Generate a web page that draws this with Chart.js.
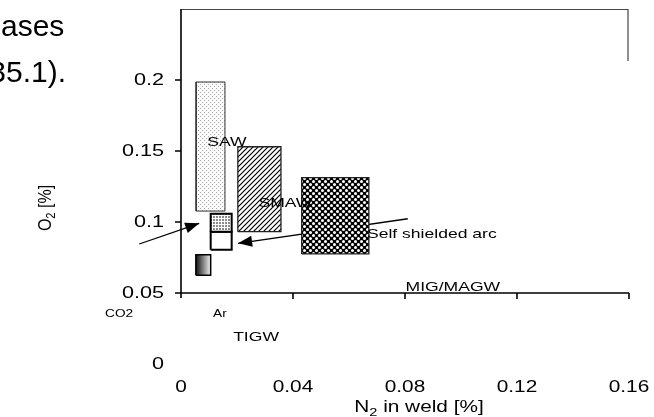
<!DOCTYPE html>
<html>
<head>
<meta charset="utf-8">
<style>
  html, body { margin: 0; padding: 0; background: #fff; }
  #wrap { width: 654px; height: 417px; }
</style>
<script src="https://cdn.jsdelivr.net/npm/chart.js@4.4.1/dist/chart.umd.min.js"></script>
</head>
<body>
<div id="wrap"><canvas id="weldChart" width="654" height="417"></canvas></div>
<script>
// process windows (N2 / O2 ranges in weld metal, %)
const boxNames = ['SAW', 'SMAW', 'Self shielded arc', 'Ar', 'Ar (low)', 'CO2'];
const boxXMin = [0.0054, 0.0203, 0.0431, 0.0106, 0.0106, 0.0053];
const boxXMax = [0.0157, 0.0357, 0.0671, 0.0181, 0.0181, 0.0106];
const boxYMin = [0.1077, 0.0932, 0.0775, 0.0932, 0.0805, 0.0625];
const boxYMax = [0.1986, 0.1530, 0.1312, 0.1058, 0.0932, 0.0770];

// arrows (tail -> head)
const arrowFromX = [-0.0149, 0.0810];
const arrowFromY = [0.0845, 0.1023];
const arrowToX = [0.0065, 0.0204];
const arrowToY = [0.0991, 0.0850];

// axis ticks
const xTicks = [0, 0.04, 0.08, 0.12, 0.16];
const xTickLabels = ['0', '0.04', '0.08', '0.12', '0.16'];
const yTicks = [0, 0.05, 0.1, 0.15, 0.2];
const yTickLabels = ['0', '0.05', '0.1', '0.15', '0.2'];

const FONT = '"Liberation Sans", Arial, sans-serif';
const STRETCH = 1.3;

const canvas = document.getElementById('weldChart');
const ctx = canvas.getContext('2d');

function makePattern(size, draw) {
    const c = document.createElement('canvas');
    c.width = size;
    c.height = size;
    draw(c.getContext('2d'));
    return ctx.createPattern(c, 'repeat');
}

const sawFill = makePattern(4, g => {
    g.fillStyle = '#fafafa';
    g.fillRect(0, 0, 4, 4);
    g.fillStyle = '#a8a8a8';
    g.fillRect(0, 0, 1, 1);
    g.fillRect(2, 2, 1, 1);
});
const smawFill = makePattern(5, g => {
    g.fillStyle = '#fff';
    g.fillRect(0, 0, 5, 5);
    g.strokeStyle = '#000';
    g.lineWidth = 1.2;
    g.beginPath();
    g.moveTo(-1, 6); g.lineTo(6, -1);
    g.moveTo(-1, 1); g.lineTo(1, -1);
    g.moveTo(4, 6); g.lineTo(6, 4);
    g.stroke();
});
const crossFill = makePattern(6, g => {
    g.fillStyle = '#000';
    g.fillRect(0, 0, 6, 6);
    g.fillStyle = '#fff';
    g.beginPath();
    g.arc(1.5, 1.5, 1.5, 0, Math.PI * 2);
    g.arc(4.5, 4.5, 1.5, 0, Math.PI * 2);
    g.fill();
});
const arFill = makePattern(3, g => {
    g.fillStyle = '#fff';
    g.fillRect(0, 0, 3, 3);
    g.fillStyle = '#8a8a8a';
    g.fillRect(0, 0, 2, 2);
});

function co2Gradient(context) {
    const chart = context.chart;
    if (!chart.chartArea) return '#888';
    const xs = chart.scales.x;
    const g = chart.ctx.createLinearGradient(xs.getPixelForValue(boxXMin[5]), 0, xs.getPixelForValue(boxXMax[5]), 0);
    g.addColorStop(0, '#111');
    g.addColorStop(1, '#f2f2f2');
    return g;
}

const boxFills = [sawFill, smawFill, crossFill, arFill, '#fff', co2Gradient];
const boxBorders = ['#333', '#222', '#222', '#000', '#000', '#000'];
const boxBorderWidths = [1, 1.3, 1.3, 2, 2, 1.5];

const datasets = boxNames.map((name, i) => ({
    label: name,
    data: [
        {x: boxXMin[i], y: boxYMin[i]},
        {x: boxXMax[i], y: boxYMin[i]},
        {x: boxXMax[i], y: boxYMax[i]},
        {x: boxXMin[i], y: boxYMax[i]},
        {x: boxXMin[i], y: boxYMin[i]}
    ],
    showLine: true,
    fill: 'shape',
    backgroundColor: boxFills[i],
    borderColor: boxBorders[i],
    borderWidth: boxBorderWidths[i],
    pointRadius: 0,
    tension: 0
}));

arrowFromX.forEach((x, i) => {
    datasets.push({
        label: 'arrow' + i,
        data: [{x: x, y: arrowFromY[i]}, {x: arrowToX[i], y: arrowToY[i]}],
        showLine: true,
        fill: false,
        borderColor: '#000',
        borderWidth: 1.3,
        pointRadius: 0,
        clip: false,
        isArrow: true
    });
});

// text placed in data units
const notes = [
    {t: 'SAW', x: 0.0164, y: 0.1563, size: 13.5, align: 'center'},
    {t: 'SMAW', x: 0.0373, y: 0.1134, size: 13.5, align: 'center'},
    {t: 'Self shielded arc', x: 0.0664, y: 0.0915, size: 13.5, align: 'left'},
    {t: 'MIG/MAGW', x: 0.0971, y: 0.0542, size: 13.5, align: 'center'},
    {t: 'Ar', x: 0.0139, y: 0.0349, size: 10.5, align: 'center'},
    {t: 'CO2', x: -0.0171, y: 0.0349, size: 10.5, align: 'right'},
    {t: 'TIGW', x: 0.0268, y: 0.0190, size: 13.5, align: 'center'}
];

function drawText(c, text, x, y, size, align, stretch) {
    c.save();
    c.font = size + 'px ' + FONT;
    c.textBaseline = 'middle';
    c.textAlign = align;
    c.translate(x, y);
    c.scale(stretch, 1);
    c.fillText(text, 0, 0);
    c.restore();
}

// text with a subscript part, centred on x,y
function drawRich(c, parts, x, y, size, stretch, rotated) {
    c.save();
    c.translate(x, y);
    c.scale(stretch, 1);
    if (rotated) c.rotate(-Math.PI / 2);
    c.textBaseline = 'middle';
    c.textAlign = 'left';
    let total = 0;
    parts.forEach(p => {
        c.font = (p.sub ? size * 0.7 : size) + 'px ' + FONT;
        p.w = c.measureText(p.t).width;
        total += p.w;
    });
    let cx = -total / 2;
    parts.forEach(p => {
        c.font = (p.sub ? size * 0.7 : size) + 'px ' + FONT;
        c.fillText(p.t, cx, p.sub ? size * 0.3 : 0);
        cx += p.w;
    });
    c.restore();
}

const axesPlugin = {
    id: 'oldAxes',
    afterDatasetsDraw(chart) {
        const c = chart.ctx;
        // arrow heads
        chart.data.datasets.forEach((ds, i) => {
            if (!ds.isArrow) return;
            const pts = chart.getDatasetMeta(i).data;
            const a = pts[0], b = pts[pts.length - 1];
            const ang = Math.atan2(b.y - a.y, b.x - a.x);
            c.save();
            c.translate(b.x, b.y);
            c.rotate(ang);
            c.fillStyle = '#000';
            c.beginPath();
            c.moveTo(0, 0);
            c.lineTo(-14, -5.5);
            c.lineTo(-14, 5.5);
            c.closePath();
            c.fill();
            c.restore();
        });
    },
    afterDraw(chart) {
        const c = chart.ctx;
        const xs = chart.scales.x, ys = chart.scales.y;
        const x0 = xs.getPixelForValue(0);
        const x1 = xs.getPixelForValue(0.16);
        const yBase = ys.getPixelForValue(0.05);
        const yTop = ys.getPixelForValue(0.25);

        c.save();
        // frame top + right stub
        c.strokeStyle = '#444';
        c.lineWidth = 1.2;
        c.beginPath();
        c.moveTo(x0, yTop + 0.5);
        c.lineTo(x1 - 1, yTop + 0.5);
        c.lineTo(x1 - 1, yTop + 52);
        c.stroke();

        c.strokeStyle = '#000';
        c.lineWidth = 1.6;
        c.beginPath();
        // y axis
        c.moveTo(x0, yTop);
        c.lineTo(x0, yBase + 5);
        // x axis drawn at O2 = 0.05
        c.moveTo(x0, yBase);
        c.lineTo(x1, yBase);
        yTicks.forEach(v => {
            if (v < 0.05) return;
            const py = Math.round(ys.getPixelForValue(v));
            c.moveTo(x0 - 6, py);
            c.lineTo(x0, py);
        });
        xTicks.forEach(v => {
            if (v === 0) return;
            const px = Math.round(xs.getPixelForValue(v));
            c.moveTo(px, yBase);
            c.lineTo(px, yBase + 6);
        });
        c.stroke();

        c.fillStyle = '#000';
        yTicks.forEach((v, i) => {
            drawText(c, yTickLabels[i], 164, ys.getPixelForValue(v) + 1, 16, 'right', 1.35);
        });
        xTicks.forEach((v, i) => {
            drawText(c, xTickLabels[i], xs.getPixelForValue(v), 388, 16, 'center', STRETCH);
        });

        drawRich(c, [{t: 'N'}, {t: '2', sub: true}, {t: ' in weld [%]'}], 419, 408, 16, STRETCH, false);
        drawRich(c, [{t: 'O'}, {t: '2', sub: true}, {t: ' [%]'}], 46, 208, 16, 1.2, true);

        notes.forEach(n => {
            drawText(c, n.t, xs.getPixelForValue(n.x), ys.getPixelForValue(n.y), n.size, n.align, STRETCH);
        });

        // bits of the surrounding page text
        c.font = '30px ' + FONT;
        c.textBaseline = 'alphabetic';
        c.textAlign = 'left';
        c.fillText('ases', 1, 36);
        c.textAlign = 'right';
        c.fillText('35.1).', 66, 82);
        c.restore();
    }
};

new Chart(ctx, {
    type: 'scatter',
    data: { datasets: datasets },
    options: {
        responsive: false,
        animation: false,
        events: [],
        layout: { padding: { left: 181, right: 25, top: 9, bottom: 53 } },
        scales: {
            x: { type: 'linear', min: 0, max: 0.16, display: false },
            y: { type: 'linear', min: 0, max: 0.25, display: false }
        },
        plugins: {
            legend: { display: false },
            tooltip: { enabled: false }
        }
    },
    plugins: [axesPlugin]
});
</script>
</body>
</html>
